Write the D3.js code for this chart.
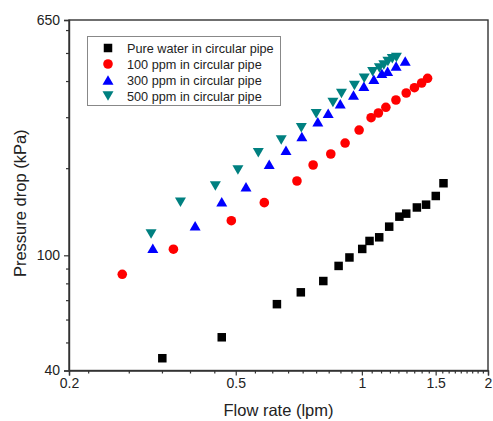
<!DOCTYPE html>
<html>
<head>
<meta charset="utf-8">
<script src="https://cdn.jsdelivr.net/npm/d3@7"></script>
<style>
  html, body { margin: 0; padding: 0; background: #fff; }
  svg { display: block; font-family: "Liberation Sans", Arial, sans-serif; }
</style>
</head>
<body>
<svg id="chart" width="493" height="421"></svg>
<script>
// Flow rate (lpm) and pressure drop (kPa) for each fluid
const waterFlow = [0.334, 0.463, 0.627, 0.715, 0.809, 0.880, 0.934, 1.002, 1.043, 1.100, 1.162, 1.229, 1.276, 1.353, 1.423, 1.501, 1.566];
const waterDrop = [44.1, 52.1, 67.8, 74.5, 81.5, 91.9, 98.3, 105.2, 112.1, 115.4, 125.6, 136.0, 139.3, 146.3, 149.6, 160.3, 177.4];

const ppm100Flow = [0.268, 0.355, 0.488, 0.585, 0.700, 0.765, 0.843, 0.912, 0.985, 1.052, 1.095, 1.141, 1.206, 1.276, 1.335, 1.389, 1.435];
const ppm100Drop = [86.0, 105.0, 131.7, 152.0, 180.6, 205.1, 223.9, 244.3, 270.9, 298.8, 310.2, 324.6, 344.0, 363.7, 379.3, 393.8, 408.8];

const ppm300Flow = [0.317, 0.400, 0.463, 0.529, 0.601, 0.659, 0.719, 0.785, 0.831, 0.888, 0.955, 1.011, 1.068, 1.116, 1.152, 1.207, 1.269];
const ppm300Drop = [105.8, 126.6, 153.2, 172.6, 206.4, 230.6, 257.4, 289.2, 309.4, 334.1, 357.9, 383.6, 405.6, 425.4, 432.5, 450.8, 469.2];

const ppm500Flow = [0.314, 0.369, 0.447, 0.506, 0.566, 0.642, 0.717, 0.778, 0.853, 0.894, 0.960, 1.013, 1.061, 1.101, 1.128, 1.154, 1.182, 1.209];
const ppm500Drop = [118.5, 152.5, 173.6, 197.2, 226.2, 250.3, 276.0, 308.4, 337.3, 362.2, 386.0, 408.8, 430.8, 443.7, 454.5, 467.2, 477.4, 482.4];

const seriesNames = ["Pure water in circular pipe", "100 ppm in circular pipe", "300 ppm in circular pipe", "500 ppm in circular pipe"];
const seriesColors = ["#000000", "#ff0000", "#0000ff", "#008080"];
const seriesShapes = ["square", "circle", "up", "down"];

const xMajorTicks = [0.2, 0.5, 1, 1.5, 2];
const yMajorTicks = [40, 100, 650];
const yMinorTicks = [50, 60, 70, 80, 90, 200, 300, 400, 500, 600];

const seriesX = [waterFlow, ppm100Flow, ppm300Flow, ppm500Flow];
const seriesY = [waterDrop, ppm100Drop, ppm300Drop, ppm500Drop];

const svg = d3.select("#chart");
const margin = { left: 69, right: 5, top: 20, bottom: 50.5 };
const W = 493, H = 421;

const x = d3.scaleLog().domain([0.2, 2]).range([margin.left, W - margin.right]);
const y = d3.scaleLog().domain([40, 650]).range([H - margin.bottom, margin.top]);

// minor x ticks every 1/18 lpm, skipping the labelled ones
const xMinorTicks = d3.range(4, 36).map(k => k / 18).filter(v => !xMajorTicks.some(m => Math.abs(m - v) < 1e-6));

const axisColor = "#333";

// x axis
const xAxis = svg.append("g").attr("transform", `translate(0,${y.range()[0]})`);
xAxis.call(d3.axisBottom(x).tickValues(xMajorTicks).tickFormat(d3.format("")).tickSize(5).tickPadding(3));
const xMinor = svg.append("g").attr("transform", `translate(0,${y.range()[0]})`);
xMinor.call(d3.axisBottom(x).tickValues(xMinorTicks).tickFormat("").tickSize(3));
xMinor.select(".domain").remove();

// y axis
const yAxis = svg.append("g").attr("transform", `translate(${x.range()[0]},0)`);
yAxis.call(d3.axisLeft(y).tickValues(yMajorTicks).tickFormat(d3.format("")).tickSize(5).tickPadding(4));
const yMinor = svg.append("g").attr("transform", `translate(${x.range()[0]},0)`);
yMinor.call(d3.axisLeft(y).tickValues(yMinorTicks).tickFormat("").tickSize(3));
yMinor.select(".domain").remove();

svg.selectAll(".tick line").attr("stroke", axisColor).attr("stroke-width", 1.2);
svg.selectAll(".domain").attr("stroke", axisColor).attr("stroke-width", 1.4);
svg.selectAll(".tick text").attr("font-size", 14).attr("fill", "#222")
  .attr("font-family", "'Liberation Sans', Arial, sans-serif");

// frame top and right
svg.append("rect")
  .attr("x", x.range()[0]).attr("y", y.range()[1])
  .attr("width", x.range()[1] - x.range()[0])
  .attr("height", y.range()[0] - y.range()[1])
  .attr("fill", "none").attr("stroke", axisColor).attr("stroke-width", 1.4);

// axis titles
svg.append("text")
  .attr("x", (x.range()[0] + x.range()[1]) / 2)
  .attr("y", 416)
  .attr("text-anchor", "middle")
  .attr("font-size", 16.5).attr("fill", "#222")
  .text("Flow rate (lpm)");

svg.append("text")
  .attr("transform", `translate(26,${(y.range()[0] + y.range()[1]) / 2 + 8}) rotate(-90)`)
  .attr("text-anchor", "middle")
  .attr("font-size", 16.5).attr("fill", "#222")
  .text("Pressure drop (kPa)");

// marker drawing
function drawMarker(g, shape, cx, cy, color) {
  if (shape === "square") {
    g.append("rect").attr("x", cx - 4.25).attr("y", cy - 4.25).attr("width", 8.5).attr("height", 8.5).attr("fill", color);
  } else if (shape === "circle") {
    g.append("circle").attr("cx", cx).attr("cy", cy).attr("r", 4.8).attr("fill", color);
  } else if (shape === "up") {
    const h = 9.5, w = 11;
    g.append("path").attr("d", `M${cx},${cy - h / 2}L${cx + w / 2},${cy + h / 2}L${cx - w / 2},${cy + h / 2}Z`).attr("fill", color);
  } else {
    const h = 9.5, w = 11;
    g.append("path").attr("d", `M${cx},${cy + h / 2}L${cx + w / 2},${cy - h / 2}L${cx - w / 2},${cy - h / 2}Z`).attr("fill", color);
  }
}

const plot = svg.append("g");
seriesNames.forEach((name, i) => {
  const g = plot.append("g");
  seriesX[i].forEach((fx, j) => {
    drawMarker(g, seriesShapes[i], x(fx), y(seriesY[i][j]), seriesColors[i]);
  });
});

// legend
const legend = svg.append("g");
legend.append("rect")
  .attr("x", 87.5).attr("y", 36.5).attr("width", 193).attr("height", 69)
  .attr("fill", "#fff").attr("stroke", "#888").attr("stroke-width", 1);
seriesNames.forEach((name, i) => {
  const ly = 48 + i * 16;
  drawMarker(legend, seriesShapes[i], 108, ly, seriesColors[i]);
  legend.append("text")
    .attr("x", 127).attr("y", ly + 4.5)
    .attr("font-size", 12.7).attr("fill", "#222")
    .text(name);
});
</script>
</body>
</html>
